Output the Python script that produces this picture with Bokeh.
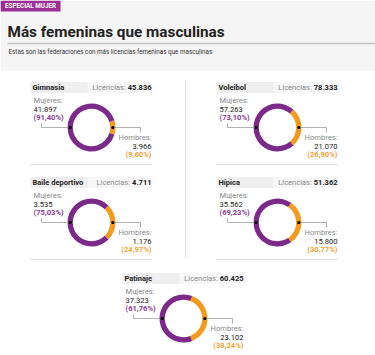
import math
from bokeh.plotting import figure
from bokeh.models import Range1d
from bokeh.core.properties import value
from bokeh.embed import file_html
from bokeh.resources import INLINE

# ---------------- data ----------------
sports = ["Gimnasia", "Voleibol", "Baile deportivo", "Hípica", "Patinaje"]
licencias = ["45.836", "78.333", "4.711", "51.362", "60.425"]
mujeres = ["41.897", "57.263", "3.535", "35.562", "37.323"]
mujeres_pct = [91.40, 73.10, 75.03, 69.23, 61.76]
hombres = ["3.966", "21.070", "1.176", "15.800", "23.102"]
hombres_pct = [9.60, 26.90, 24.97, 30.77, 38.24]

TITLE = "Más femeninas que masculinas"
SUBTITLE = "Estas son las federaciones con más licencias femeninas que masculinas"
TAG = "ESPECIAL MUJER"

# ---------------- layout ----------------
W, H = 375, 355
centers = [(91, 127), (277, 127), (91, 222), (277, 222), (183, 318)]
R_OUT, R_IN = 24, 18.7

PURPLE = "#7b2a8a"
ORANGE = "#f39a1f"
PURPLE_TXT = "#8a3a98"
ORANGE_TXT = "#f0a235"
TAG_C = "#9c2f95"
DARK = "#222222"
GREY_T = "#8a8a8a"
FONT = value("Roboto")


def Y(y):
    return H - y


p = figure(width=W, height=H, x_range=Range1d(0, W), y_range=Range1d(0, H),
           output_backend="svg", toolbar_location=None,
           x_axis_location=None, y_axis_location=None, min_border=0)
p.grid.visible = False
p.outline_line_color = None
p.background_fill_color = "white"
p.border_fill_color = "white"

# header band
p.quad(left=[0], right=[W], top=[Y(0)], bottom=[Y(70)], fill_color="#f5f5f5", line_color=None)
p.quad(left=[0], right=[60], top=[Y(0)], bottom=[Y(11)], fill_color=TAG_C, line_color=None)
p.text(x=[4.5], y=[Y(5.8)], text=[TAG], text_font=FONT, text_font_size=value("6.3px"),
       text_font_style="bold", text_color="white", text_baseline="middle")
p.text(x=[7], y=[Y(31)], text=[TITLE], text_font=FONT, text_font_size=value("15.3px"),
       text_font_style="bold", text_color=DARK, text_baseline="middle")
p.segment(x0=[7], y0=[Y(43)], x1=[W], y1=[Y(43)], line_color="#c8c8c8", line_width=1.5)
p.text(x=[8], y=[Y(51.5)], text=[SUBTITLE], text_font=FONT, text_font_size=value("6.3px"),
       text_color="#333333", text_baseline="middle")

# separators
p.segment(x0=[185], y0=[Y(80)], x1=[185], y1=[Y(258)], line_color="#bbbbbb",
          line_width=1, line_dash="1 1")

for i, (cx, cy) in enumerate(centers):
    hy = cy - 40
    # header bar
    p.quad(left=[cx - 61], right=[cx + 61], top=[Y(hy - 5.5)], bottom=[Y(hy + 5.5)],
           fill_color="#f7f7f7", line_color=None)
    p.quad(left=[cx - 61], right=[cx - 4], top=[Y(hy - 5.5)], bottom=[Y(hy + 5.5)],
           fill_color="#efefef", line_color=None)
    p.text(x=[cx - 59], y=[Y(hy)], text=[sports[i]], text_font=FONT,
           text_font_size=value("7.5px"), text_font_style="bold", text_color=DARK,
           text_baseline="middle")
    num = licencias[i]
    nw = sum(1.9 if c == "." else 4.2 for c in num)
    p.text(x=[cx + 60], y=[Y(hy)], text=[num], text_font=FONT,
           text_font_size=value("7.5px"), text_font_style="bold", text_color=DARK,
           text_align="right", text_baseline="middle")
    p.text(x=[cx + 60 - nw - 1], y=[Y(hy)], text=["Licencias: "], text_font=FONT,
           text_font_size=value("7.5px"), text_color=GREY_T,
           text_align="right", text_baseline="middle")

    # donut
    a = hombres_pct[i] / 100 * math.pi
    p.annular_wedge(x=[cx], y=[Y(cy)], inner_radius=R_IN, outer_radius=R_OUT,
                    start_angle=[-a], end_angle=[a], fill_color=ORANGE, line_color=None)
    p.annular_wedge(x=[cx], y=[Y(cy)], inner_radius=R_IN, outer_radius=R_OUT,
                    start_angle=[a], end_angle=[2 * math.pi - a], fill_color=PURPLE,
                    line_color=None)
    rm = (R_IN + R_OUT) / 2
    # leader lines
    p.line(x=[cx - rm, cx - 50, cx - 50], y=[Y(cy), Y(cy), Y(cy - 4)],
           line_color="#a0a0a0", line_width=0.8)
    p.line(x=[cx + rm, cx + 49, cx + 49], y=[Y(cy), Y(cy), Y(cy + 5)],
           line_color="#a0a0a0", line_width=0.8)
    p.scatter(x=[cx - rm, cx + rm], y=[Y(cy), Y(cy)], size=3.2, fill_color="black",
              line_color=None)

    # labels
    mp = "(" + f"{mujeres_pct[i]:.2f}".replace(".", ",") + "%)"
    hp = "(" + f"{hombres_pct[i]:.2f}".replace(".", ",") + "%)"
    lx = cx - 58
    p.text(x=[lx], y=[Y(cy - 27)], text=["Mujeres:"], text_font=FONT,
           text_font_size=value("7.6px"), text_color=GREY_T, text_baseline="middle")
    p.text(x=[lx], y=[Y(cy - 18.5)], text=[mujeres[i]], text_font=FONT,
           text_font_size=value("7.6px"), text_color=DARK, text_baseline="middle")
    p.text(x=[lx], y=[Y(cy - 10)], text=[mp], text_font=FONT,
           text_font_size=value("7.6px"), text_font_style="bold", text_color=PURPLE_TXT,
           text_baseline="middle")
    rx = cx + 60
    p.text(x=[rx], y=[Y(cy + 10)], text=["Hombres:"], text_font=FONT,
           text_font_size=value("7.6px"), text_color=GREY_T, text_align="right",
           text_baseline="middle")
    p.text(x=[rx], y=[Y(cy + 18.5)], text=[hombres[i]], text_font=FONT,
           text_font_size=value("7.6px"), text_color=DARK, text_align="right",
           text_baseline="middle")
    p.text(x=[rx], y=[Y(cy + 27)], text=[hp], text_font=FONT,
           text_font_size=value("7.6px"), text_font_style="bold", text_color=ORANGE_TXT,
           text_align="right", text_baseline="middle")

    if i < 4:
        p.segment(x0=[cx - 61], y0=[Y(cy + 37)], x1=[cx + 61], y1=[Y(cy + 37)],
                  line_color="#bbbbbb", line_width=1, line_dash="1 1")

html = file_html(p, INLINE)
html = html.replace("<head>", "<head><style>html,body{margin:0;padding:0;overflow:hidden}</style>", 1)
open("out.html", "w").write(html)
